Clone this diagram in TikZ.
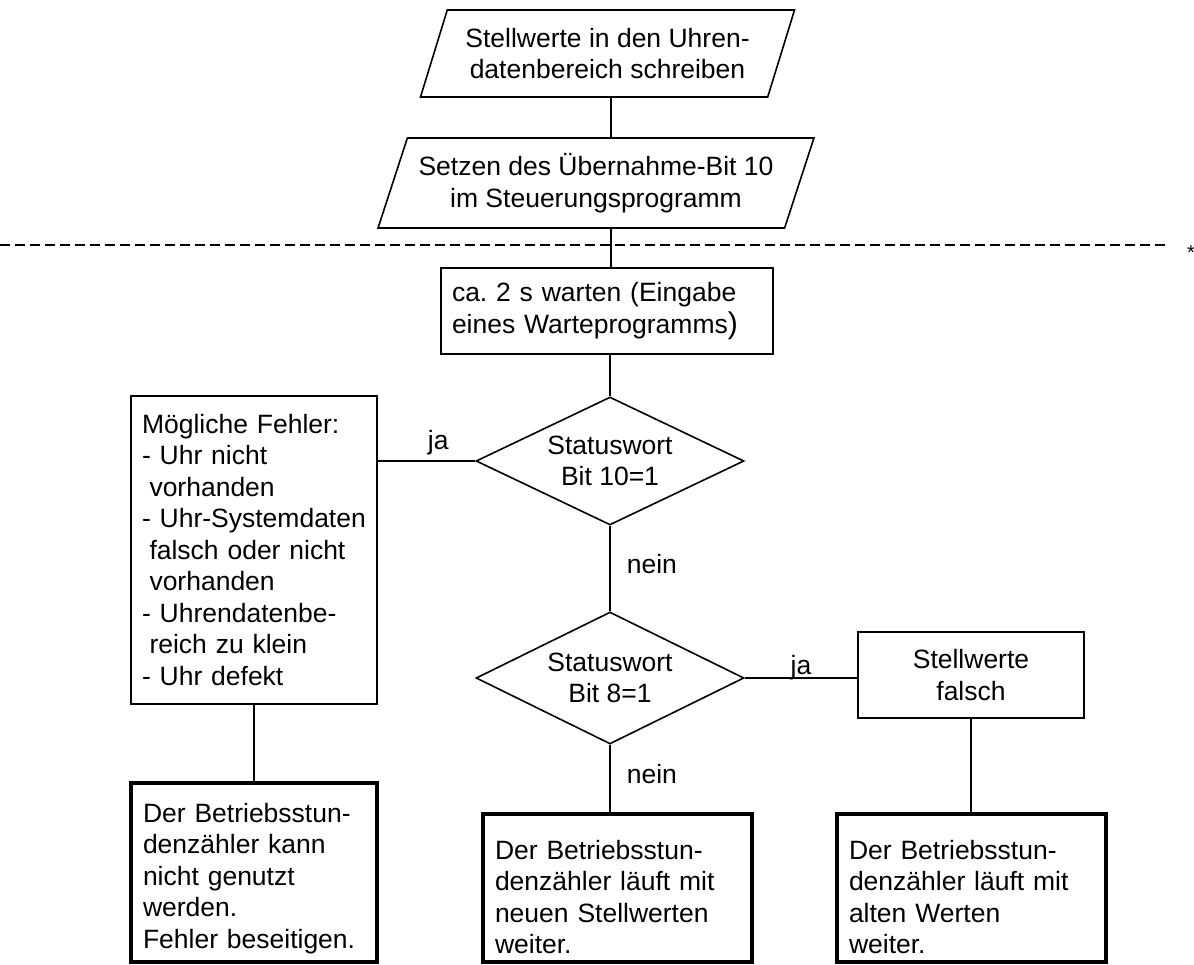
\documentclass[tikz,border=0pt]{standalone}
\usepackage{fontspec}
\setmainfont{Liberation Sans}
\usetikzlibrary{shapes.geometric}
\begin{document}
\frenchspacing
\begin{tikzpicture}[x=1pt,y=-1pt,
  txt/.style={font=\fontsize{26.5}{31.5}\selectfont},
  ln/.style={line width=1.6pt},
  io/.style={txt, draw, ln, trapezium, trapezium left angle=65,
    trapezium right angle=115, trapezium stretches=true,
    inner sep=0pt, align=center},
  proc/.style={txt, draw, ln, rectangle, inner ysep=0pt, inner xsep=11pt, align=left},
  decide/.style={txt, draw, ln, diamond, aspect=2.1, inner sep=0pt, align=center,
    minimum width=268pt, minimum height=128pt},
  result/.style={txt, draw, line width=4.5pt, rectangle, inner ysep=0pt,
    inner xsep=12pt, align=left, minimum height=148pt},
  lbl/.style={txt, inner sep=0pt},
  conn/.style={ln},
  sepline/.style={line width=1.6pt, dash pattern=on 10pt off 5pt},
]
\useasboundingbox (0,0) rectangle (1194,965);

% main axis of the flow
\coordinate (ax) at (611,0);

% input / output steps
\node[io, minimum width=375pt, minimum height=87pt] (p1) at (607.5,53.5)
  {Stellwerte in den Uhren-\\datenbereich schreiben};
\node[io, minimum width=438pt, minimum height=90pt] (p2) at (596,183)
  {Setzen des Übernahme-Bit 10\\im Steuerungsprogramm};

% separator
\coordinate (sepL) at (0,245);
\coordinate (sepR) at (1165,245);
\draw[sepline] (sepL) -- (sepR);
\node[font=\fontsize{20}{20}\selectfont, inner sep=0pt] (star) at (1191,253) {*};

% waiting step
\node[proc, text width=310pt, minimum height=86pt] (wait) at (607,311)
  {ca. 2 s warten (Eingabe\\eines Warteprogramms{\fontsize{30}{31.5}\selectfont)}};

% decisions
\node[decide] (d1) at (610,461) {Statuswort\\Bit 10=1};
\node[decide, minimum height=132pt] (d2) at (610,678) {Statuswort\\Bit 8=1};

% error list
\node[proc, text width=224pt, minimum height=308pt] (err) at (254,550)
  {Mögliche Fehler:\\
   - Uhr nicht\\
   \hspace*{7.5pt}vorhanden\\
   - Uhr-Systemdaten\\
   \hspace*{7.5pt}falsch oder nicht\\
   \hspace*{7.5pt}vorhanden\\
   - Uhrendatenbe-\\
   \hspace*{7.5pt}reich zu klein\\
   - Uhr defekt};

\node[proc, align=center, minimum width=226pt, minimum height=86pt] (bad) at (971,675)
  {Stellwerte\\falsch};

% results
\node[result, text width=222pt, minimum height=179pt] (r1) at (254,872.5)
  {\rule{0pt}{31pt}Der Betriebsstun-\\denzähler kann\\nicht genutzt\\werden.\\Fehler beseitigen.};
\node[result, text width=245pt] (r2) at (617.5,888)
  {\rule{0pt}{37pt}Der Betriebsstun-\\denzähler läuft mit\\neuen Stellwerten\\weiter.};
\node[result, text width=245pt] (r3) at (971.5,888)
  {\rule{0pt}{37pt}Der Betriebsstun-\\denzähler läuft mit\\alten Werten\\weiter.};

% connectors
\draw[conn] (p1.south -| ax) -- (p2.north -| ax);
\draw[conn] (p2.south -| ax) -- (wait.north -| ax);
\draw[conn] (wait.south -| d1.north) -- (d1.north);
\draw[conn] (d1.west -| err.east) -- (d1.west)
  node[lbl, pos=0.62, anchor=base, yshift=12pt] {ja};
\draw[conn] (d1.south) -- (d2.north)
  node[lbl, pos=0.5, anchor=base west, xshift=16pt, yshift=-5pt] {nein};
\draw[conn] (d2.east) -- (bad.west |- d2.east)
  node[lbl, pos=0.5, anchor=base, yshift=4pt] {ja};
\draw[conn] (d2.south) -- (r2.north -| d2.south)
  node[lbl, pos=0.5, anchor=base west, xshift=16pt, yshift=-5pt] {nein};
\draw[conn] (err.south) -- (r1.north);
\draw[conn] (bad.south) -- (r3.north -| bad.south);
\end{tikzpicture}
\end{document}
